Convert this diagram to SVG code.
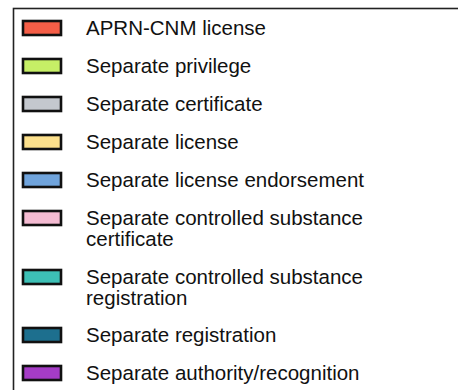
<svg xmlns="http://www.w3.org/2000/svg" width="458" height="390" viewBox="0 0 458 390">
<style>
text{font-family:"Liberation Sans",Arial,sans-serif;font-size:20.5px;fill:#111;}
.sw{stroke:#111;stroke-width:2.6;}
</style>
<rect x="0" y="0" width="458" height="390" fill="#fff"/>
<rect id="frame" x="13.5" y="8.5" width="470" height="400" fill="#fff" stroke="#222" stroke-width="1.6"/>
<g id="item-aprn"><rect class="sw" x="23" y="21" width="38" height="14" fill="#f55e47"/><text x="86" y="35">APRN-CNM license</text></g>
<g id="item-privilege"><rect class="sw" x="23" y="59" width="38" height="14" fill="#c6ef66"/><text x="86" y="73">Separate privilege</text></g>
<g id="item-certificate"><rect class="sw" x="23" y="97" width="38" height="14" fill="#c4c8ce"/><text x="86" y="111">Separate certificate</text></g>
<g id="item-license"><rect class="sw" x="23" y="135" width="38" height="14" fill="#fce08c"/><text x="86" y="149">Separate license</text></g>
<g id="item-endorsement"><rect class="sw" x="23" y="173" width="38" height="14" fill="#70a4dc"/><text x="86" y="187">Separate license endorsement</text></g>
<g id="item-cs-certificate"><rect class="sw" x="23" y="211" width="38" height="14" fill="#f4bbd2"/><text x="86" y="225">Separate controlled substance</text><text x="86" y="246">certificate</text></g>
<g id="item-cs-registration"><rect class="sw" x="23" y="270" width="38" height="14" fill="#3dc0b6"/><text x="86" y="284">Separate controlled substance</text><text x="86" y="305">registration</text></g>
<g id="item-registration"><rect class="sw" x="23" y="328" width="38" height="14" fill="#1d6f8e"/><text x="86" y="342">Separate registration</text></g>
<g id="item-authority"><rect class="sw" x="23" y="366" width="38" height="14" fill="#a53cc6"/><text x="86" y="380">Separate authority/recognition</text></g>
<g id="connectors"></g>
</svg>
